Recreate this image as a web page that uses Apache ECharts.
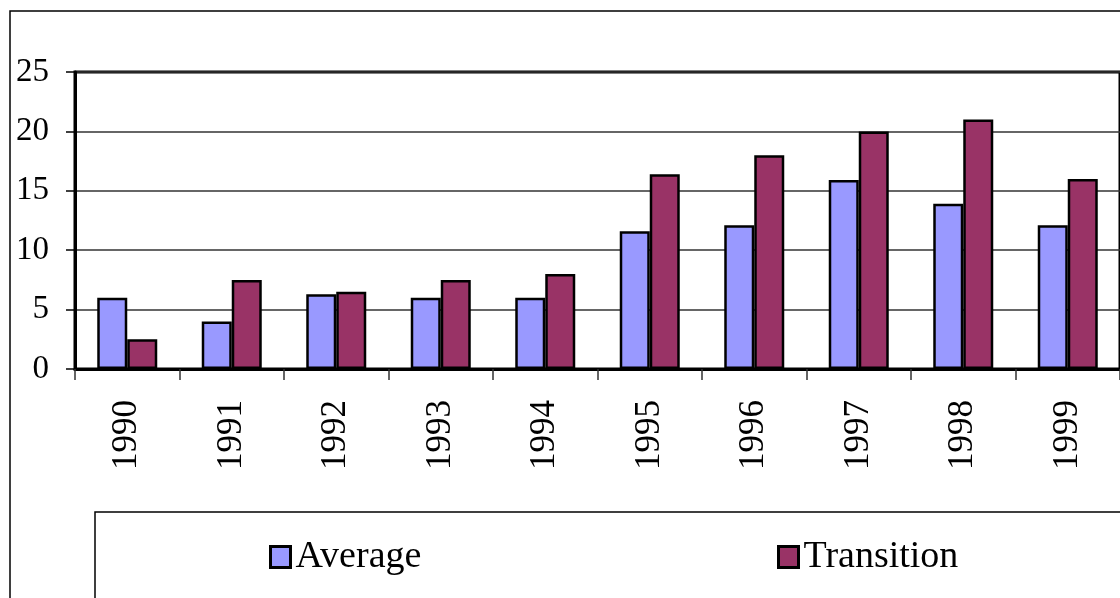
<!DOCTYPE html>
<html>
<head>
<meta charset="utf-8">
<script src="https://cdn.jsdelivr.net/npm/echarts@6/dist/echarts.min.js"></script>
<style>
    html, body {margin: 0; padding: 0; background: #fff;}
    #container {width: 1120px; height: 598px;}
</style>
</head>
<body>
<div id="container"></div>
<script>
var years = ['1990', '1991', '1992', '1993', '1994', '1995', '1996', '1997', '1998', '1999'];
var averageValues = [6.0, 4.0, 6.3, 6.0, 6.0, 11.6, 12.1, 15.9, 13.9, 12.1];
var transitionValues = [2.5, 7.5, 6.5, 7.5, 8.0, 16.4, 18.0, 20.0, 21.0, 16.0];
var yTicks = [0, 5, 10, 15, 20, 25];

var serif = 'Liberation Serif';
var dom = document.getElementById("container");
var myChart = echarts.init(dom);
var option = null;
option = {
    animation: false,
    backgroundColor: '#fff',
    graphic: [
        { // outer chart border
            type: 'rect',
            shape: {x: 10, y: 11, width: 1200, height: 700},
            style: {fill: 'none', stroke: '#000', lineWidth: 1.5},
            z: -10
        },
        { // legend box
            type: 'rect',
            shape: {x: 95, y: 512, width: 1100, height: 200},
            style: {fill: 'none', stroke: '#000', lineWidth: 1.5},
            z: -10
        }
    ],
    grid: {
        left: 75,
        top: 72,
        right: -8,
        bottom: 229,
        show: true,
        borderColor: '#000',
        borderWidth: 3
    },
    legend: [
        {
            data: ['Average'],
            left: 264,
            top: 533,
            icon: 'rect',
            itemWidth: 20,
            itemHeight: 21,
            itemGap: 12,
            itemStyle: {borderWidth: 3},
            textStyle: {fontFamily: serif, fontSize: 38, color: '#000'}
        },
        {
            data: ['Transition'],
            left: 772,
            top: 533,
            icon: 'rect',
            itemWidth: 20,
            itemHeight: 21,
            itemGap: 12,
            itemStyle: {borderWidth: 3},
            textStyle: {fontFamily: serif, fontSize: 38, color: '#000'}
        }
    ],
    xAxis: {
        type: 'category',
        data: years,
        axisLine: {lineStyle: {color: '#000', width: 3}},
        axisTick: {show: true, length: 11, lineStyle: {color: '#333', width: 1.5}},
        axisLabel: {
            rotate: 90,
            margin: 31,
            fontFamily: serif,
            fontSize: 35,
            color: '#000'
        }
    },
    yAxis: {
        type: 'value',
        min: yTicks[0],
        max: yTicks[yTicks.length - 1],
        interval: 5,
        axisLine: {show: true, lineStyle: {color: '#000', width: 3}},
        axisTick: {show: true, length: 9, lineStyle: {color: '#000', width: 1.5}},
        axisLabel: {
            margin: 26,
            fontFamily: serif,
            fontSize: 33,
            color: '#000'
        },
        splitLine: {show: true, lineStyle: {color: '#333', width: 1.5}}
    },
    series: [
        {
            name: 'Average',
            type: 'bar',
            data: averageValues,
            barWidth: 30,
            barGap: '0%',
            itemStyle: {color: '#9999FF', borderColor: '#000', borderWidth: 2.5}
        },
        {
            name: 'Transition',
            type: 'bar',
            data: transitionValues,
            barWidth: 30,
            barGap: '0%',
            itemStyle: {color: '#993366', borderColor: '#000', borderWidth: 2.5}
        }
    ]
};
if (option && typeof option === "object") {
    myChart.setOption(option, true);
}
</script>
</body>
</html>
